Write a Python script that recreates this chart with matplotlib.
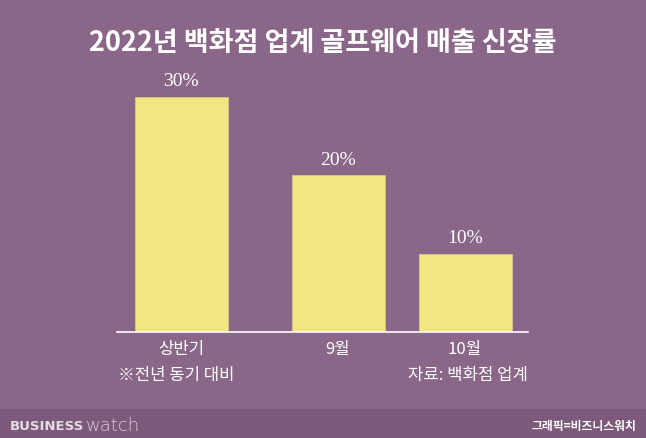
import matplotlib.pyplot as plt
from matplotlib.patches import Rectangle

plt.rcParams['font.family'] = ['Noto Sans CJK KR', 'DejaVu Sans']

# data
categories = ["상반기", "9월", "10월"]
growth = [30, 20, 10]
value_labels = ["30%", "20%", "10%"]
title = "2022년 백화점 업계 골프웨어 매출 신장률"
note_left = "※전년 동기 대비"
note_right = "자료: 백화점 업계"
credit = "그래픽=비즈니스워치"

bg = "#8a6688"
strip = "#7d5a7b"
bar_color = "#f3e682"

W, H = 646, 439
fig = plt.figure(figsize=(W / 100, H / 100), dpi=100, facecolor=bg)

# bottom strip
fig.patches.append(Rectangle((0, 0), 1, 29 / H, transform=fig.transFigure,
                             facecolor=strip, edgecolor="none", zorder=0))

# axes in pixel units: x from 117 to 528, baseline at y=333
ax = fig.add_axes([117 / W, (H - 333) / H, 411 / W, 273 / H])
ax.set_facecolor("none")
ax.set_xlim(0, 411)
ax.set_ylim(0, 273 / 7.83)
xpos = [64, 221, 348]
ax.bar(xpos, growth, width=93, color=bar_color, edgecolor="#d9c97a", linewidth=0.6)
for x, v, lab in zip(xpos, growth, value_labels):
    ax.text(x, v + 1.0, lab, ha="center", va="bottom", color="white",
            fontsize=14, family="Liberation Serif")
for s in ["top", "right", "left"]:
    ax.spines[s].set_visible(False)
ax.spines["bottom"].set_color("white")
ax.spines["bottom"].set_linewidth(1.2)
ax.set_yticks([])
ax.set_xticks(xpos)
ax.set_xticklabels(categories, color="white", fontsize=12)
ax.tick_params(axis="x", length=0, pad=6)

fig.text(0.5, 1 - 43 / H, title, ha="center", va="center", color="white",
         fontsize=19.5, fontweight="bold")
fig.text(118 / W, 1 - 376 / H, note_left, ha="left", va="center",
         color="white", fontsize=12)
fig.text(528 / W, 1 - 376 / H, note_right, ha="right", va="center",
         color="white", fontsize=12)

fig.text(10 / W, 1 - 427 / H, "BUSINESS", ha="left", va="center",
         color="#e6dce4", fontsize=9.5, fontweight="heavy", family="DejaVu Sans")
fig.text(86 / W, 1 - 426 / H, "watch", ha="left", va="center",
         color="#d8ccd6", fontsize=13, fontweight="light", family="DejaVu Sans")
fig.text(636 / W, 1 - 427 / H, credit, ha="right", va="center",
         color="white", fontsize=8.5, fontweight="bold")

fig.savefig("out.png", dpi=100, facecolor=bg)
